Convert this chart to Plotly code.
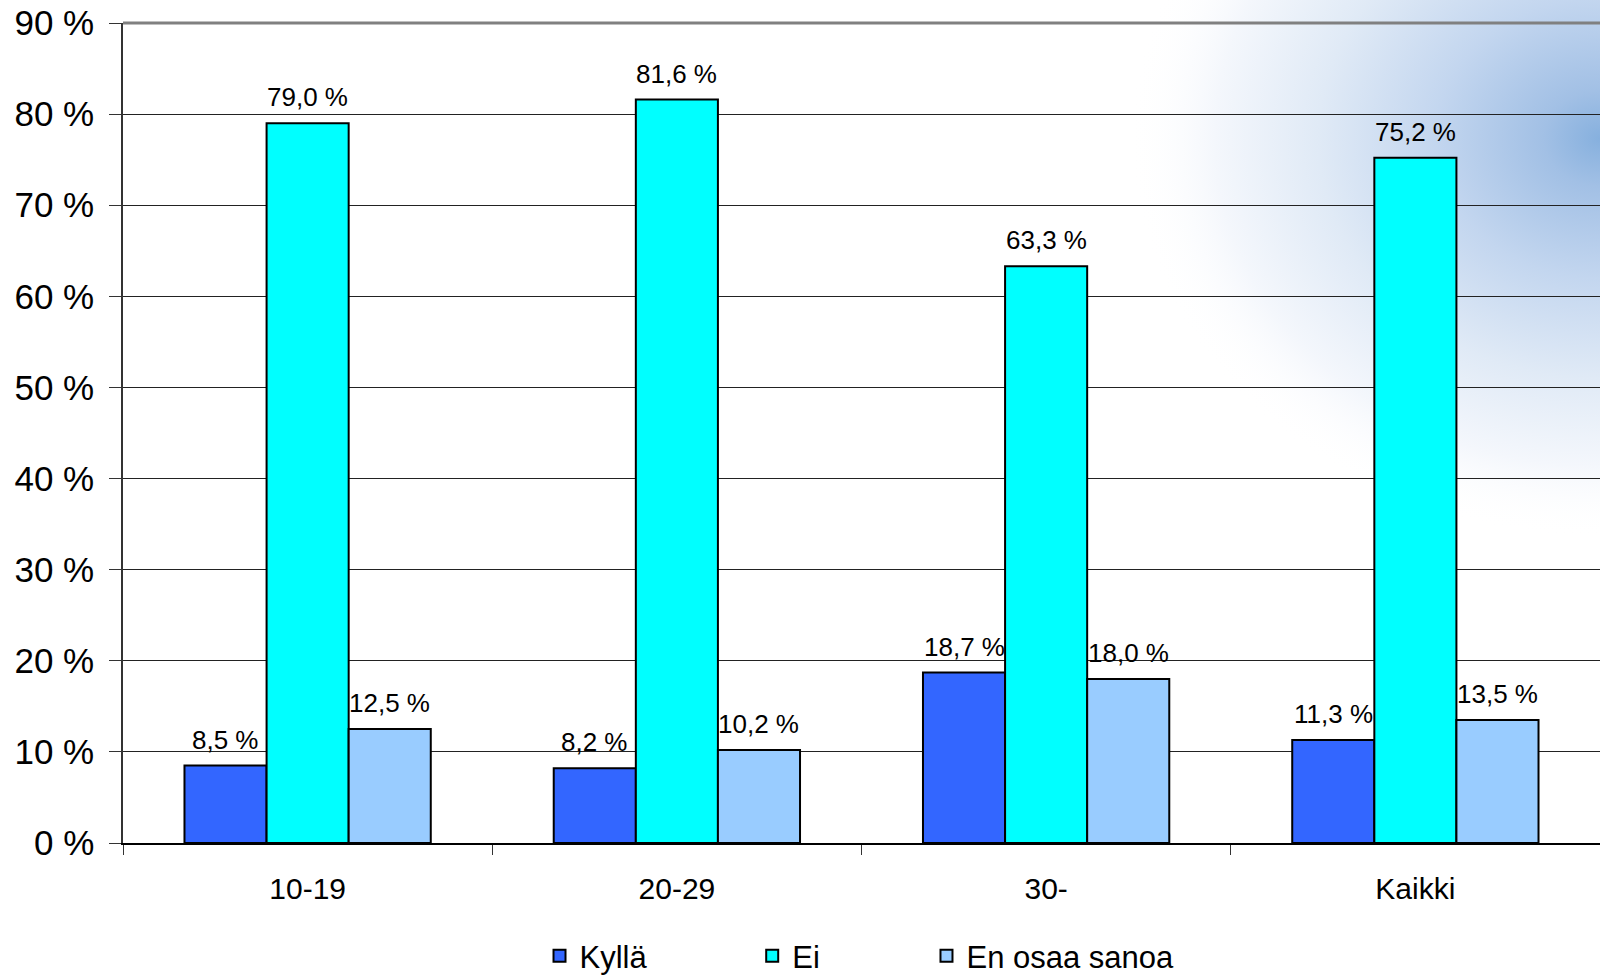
import base64
import plotly.graph_objects as go

categories = ["10-19", "20-29", "30-", "Kaikki"]
kylla = [8.5, 8.2, 18.7, 11.3]
ei = [79.0, 81.6, 63.3, 75.2]
en_osaa = [12.5, 10.2, 18.0, 13.5]

series = [
    ("Kyllä", kylla, "#3366ff"),
    ("Ei", ei, "#00ffff"),
    ("En osaa sanoa", en_osaa, "#99ccff"),
]
legend_x = [0.282, 0.426, 0.544]

FONT = "Liberation Sans, Arial, sans-serif"
BAR_PX = 82  # width of one bar in pixels, used to centre labels over bars


def pct(v):
    return f"{v:.1f} %".replace(".", ",")


# soft blue glow in the top-right corner
svg = """<svg xmlns='http://www.w3.org/2000/svg' width='480' height='560' viewBox='0 0 480 560' preserveAspectRatio='none'>
<defs><radialGradient id='g' gradientUnits='userSpaceOnUse' cx='480' cy='140' r='470' gradientTransform='translate(480 140) scale(1 0.85) translate(-480 -140)'>
<stop offset='0' stop-color='#86b0de'/>
<stop offset='0.12' stop-color='#a2c0e5'/>
<stop offset='0.35' stop-color='#c3d6ef'/>
<stop offset='0.6' stop-color='#e0eaf6'/>
<stop offset='0.82' stop-color='#f4f7fc'/>
<stop offset='1' stop-color='#ffffff' stop-opacity='0'/>
</radialGradient></defs>
<rect width='480' height='560' fill='url(#g)'/></svg>"""
svg_uri = "data:image/svg+xml;base64," + base64.b64encode(svg.encode()).decode()

fig = go.Figure()
annotations = []
for i, (name, vals, color) in enumerate(series):
    fig.add_trace(go.Bar(
        x=categories, y=vals, name=name,
        legend="legend" if i == 0 else f"legend{i + 1}",
        marker=dict(color=color, line=dict(color="black", width=2)),
    ))
    for cat, v in zip(categories, vals):
        annotations.append(dict(
            x=cat, y=v, text=pct(v), showarrow=False,
            xanchor="center", yanchor="bottom",
            xshift=(i - 1) * BAR_PX, yshift=9,
            font=dict(size=26, color="black", family=FONT),
        ))

legend_style = dict(orientation="h", xanchor="left", y=-0.138, yanchor="middle",
                    font=dict(size=31), itemwidth=30)

fig.update_layout(
    width=1600, height=975,
    margin=dict(l=123, r=0, t=23, b=132, autoexpand=False),
    paper_bgcolor="white", plot_bgcolor="rgba(0,0,0,0)",
    barmode="group", bargap=0.333, bargroupgap=0,
    font=dict(family=FONT, color="black"),
    showlegend=True,
    legend=dict(x=legend_x[0], **legend_style),
    legend2=dict(x=legend_x[1], **legend_style),
    legend3=dict(x=legend_x[2], **legend_style),
    annotations=annotations,
    shapes=[dict(type="line", xref="paper", yref="paper", x0=0, x1=1, y0=1, y1=1,
                 line=dict(color="#808080", width=3))],
    images=[dict(
        source=svg_uri, xref="paper", yref="paper",
        x=(1120 - 123) / 1477, y=1.03, sizex=480 / 1477, sizey=560 / 820,
        xanchor="left", yanchor="top", sizing="stretch", layer="below",
    )],
)

fig.update_yaxes(
    range=[0, 90], dtick=10, ticksuffix=" %", automargin=False,
    showgrid=True, gridcolor="#222222", gridwidth=1,
    showline=True, linecolor="#333333", linewidth=1.5,
    ticks="outside", ticklen=12, tickcolor="#333333",
    tickfont=dict(size=35), ticklabelstandoff=8,
    zeroline=False,
)
fig.update_xaxes(
    automargin=False,
    showline=True, linecolor="black", linewidth=1.5,
    ticks="outside", ticklen=10, tickcolor="#333333", tickson="boundaries",
    tickfont=dict(size=30), ticklabelstandoff=18,
)

fig.write_html("out.html", config={"displayModeBar": False},
               post_script="document.body.style.margin='0';")
